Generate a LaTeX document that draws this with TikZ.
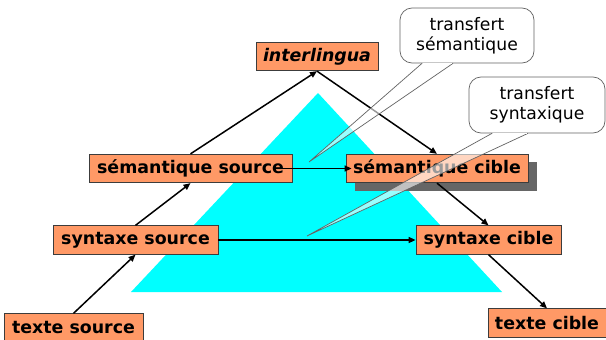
\documentclass[tikz,border=0pt]{standalone}
\usepackage{fontspec}
\setmainfont{DejaVu Sans}
\usetikzlibrary{arrows.meta,shadows}
\definecolor{boxfill}{RGB}{255,153,102}
\definecolor{boxline}{RGB}{60,60,60}
\definecolor{shadowgray}{RGB}{102,102,102}
\definecolor{trifill}{RGB}{0,255,255}
\begin{document}
\begin{tikzpicture}[x=1pt,y=-1pt,
  lbl/.style={draw=boxline, line width=0.8pt, fill=boxfill, inner sep=0pt,
    font=\fontsize{17.4}{20}\selectfont\bfseries, minimum height=28.5pt},
  conn/.style={line width=1.5pt, -{Triangle[length=7pt,width=6pt]}},
  bubble/.style={draw=boxline!80, line width=0.7pt, fill=white, rounded corners=12pt,
    inner sep=0pt, align=center, font=\fontsize{17.2}{20}\selectfont},
  pointer/.style={draw=boxline!80, line width=0.7pt, fill=white, fill opacity=0.6}]
\useasboundingbox (0,0) rectangle (606,340);
\fill[trifill] (318,93) -- (131,292) -- (502,292) -- cycle;
% boxes
\node[lbl, minimum width=122pt] (inter) at (317,56.5) {\itshape interlingua};
\node[lbl, minimum width=203pt] (sS) at (190.5,168.5) {sémantique source};
\node[lbl, minimum width=182pt, drop shadow={shadow xshift=9pt, shadow yshift=-8pt, fill=shadowgray, opacity=1}] (sC) at (437,168.5) {sémantique cible};
\node[lbl, minimum width=165pt] (xS) at (135.5,240) {syntaxe source};
\node[lbl, minimum width=145pt] (xC) at (488.5,240) {syntaxe cible};
\node[lbl, minimum width=139pt] (tS) at (73.5,328) {texte source};
\node[lbl, minimum width=118pt] (tC) at (547,323) {texte cible};
% connectors
\draw[conn] (tS.north) -- (xS.south);
\draw[conn] (xS.north) -- (sS.south);
\draw[conn] (sS.north) -- (inter.south);
\draw[conn] (inter.south) -- (sC.north);
\draw[conn] (sC.south) -- (xC.north);
\draw[conn] (xC.south) -- (tC.north);
\draw[conn] (xS.east) -- (xC.west);
\draw[conn] ([xshift=-10pt]sS.east) -- ([xshift=6pt]sC.west);
% callouts
\node[bubble, minimum width=134pt, minimum height=55pt] (c1) at (467,35.5) {transfert\\sémantique};
\node[bubble, minimum width=136pt, minimum height=56pt] (c2) at (537,105) {transfert\\syntaxique};
\coordinate (tip1) at (309,162);
\coordinate (tip2) at (307,236);
\filldraw[pointer] ([xshift=-45pt]c1.south) -- (tip1) -- ([xshift=-14pt]c1.south);
\draw[white, line width=1.4pt] ([xshift=-44.3pt]c1.south) -- ([xshift=-14.7pt]c1.south);
\filldraw[pointer] ([xshift=-45pt]c2.south) -- (tip2) -- ([xshift=-9pt]c2.south);
\draw[white, line width=1.4pt] ([xshift=-44.3pt]c2.south) -- ([xshift=-9.7pt]c2.south);
\end{tikzpicture}
\end{document}
